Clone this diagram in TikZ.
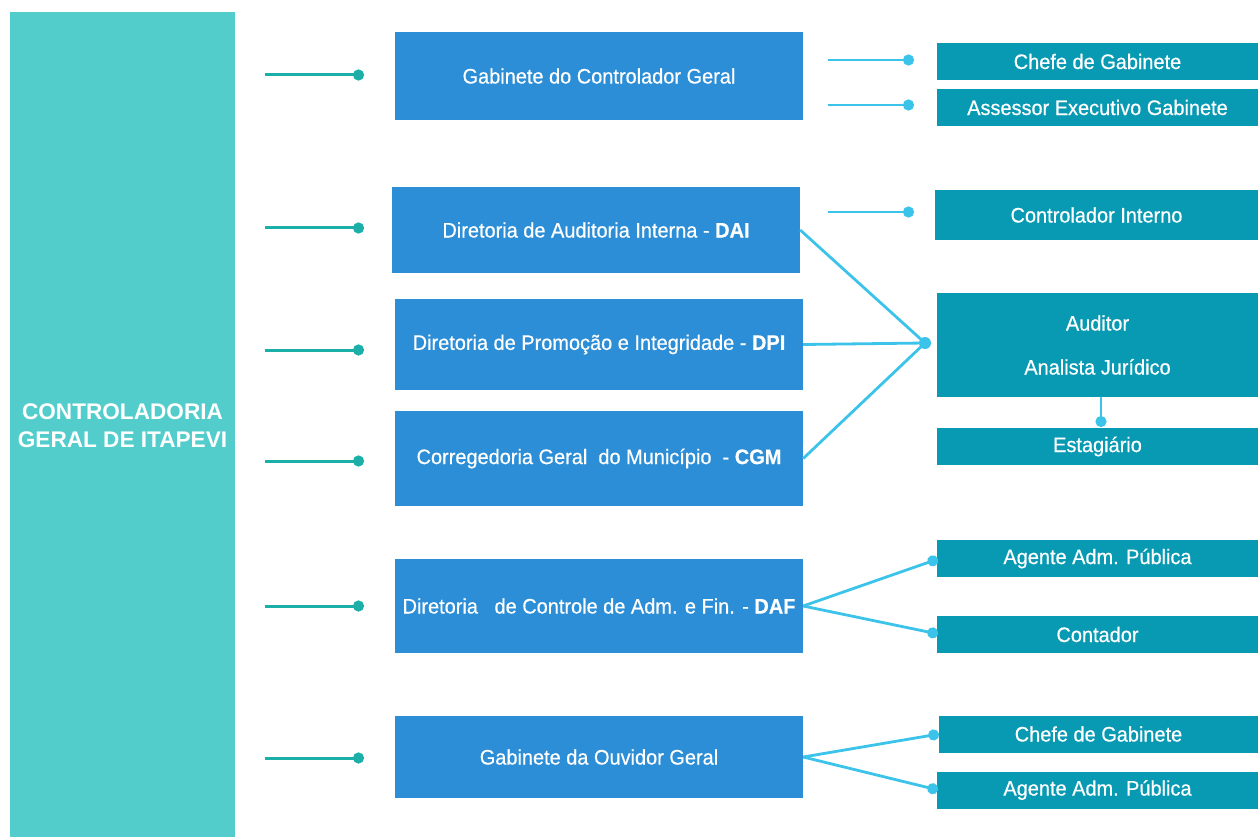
\documentclass[tikz,border=0pt]{standalone}
\usepackage{fontspec}
\setmainfont{Liberation Sans}
\newfontfamily\cond[FakeStretch=0.95,FakeBold=0.5]{Liberation Sans}
\usetikzlibrary{arrows.meta}
\definecolor{panelc}{HTML}{52CDCB}
\definecolor{midc}{HTML}{2C8ED6}
\definecolor{subc}{HTML}{0899B3}
\definecolor{lconnc}{HTML}{1BAFA8}
\definecolor{rconnc}{HTML}{3BC3EA}
\tikzset{
  panel/.style={rectangle,fill=panelc,inner sep=0pt,text=white,font=\bfseries\fontsize{22.6}{28}\selectfont,align=center},
  midbox/.style={rectangle,fill=midc,inner sep=0pt,minimum width=408pt,text=white,font=\cond\fontsize{21}{24}\selectfont},
  subbox/.style={rectangle,fill=subc,inner sep=0pt,minimum width=321pt,minimum height=37pt,text=white,font=\cond\fontsize{21}{24}\selectfont},
  lconn/.style={draw=lconnc,line width=3pt,-{Circle[length=11pt,width=11pt]}},
  rconn/.style={draw=rconnc,line width=2.8pt,-{Circle[length=11pt,width=11pt]}},
  rline/.style={draw=rconnc,line width=2.8pt},
  jdotst/.style={circle,fill=rconnc,inner sep=0pt,minimum size=12pt}
}
\begin{document}
\begin{tikzpicture}[x=1pt,y=-1pt]
\useasboundingbox (0,0) rectangle (1258,837);
% left panel
\fill[panelc] (10,12) rectangle (235,837);
\node[panel] (cgi) at (122.5,426) {CONTROLADORIA\\GERAL DE ITAPEVI};
% middle boxes
\node[midbox,minimum height=88pt] (gab) at (599,76) {Gabinete do Controlador Geral};
\node[midbox,minimum height=86pt] (dai) at (596,230) {Diretoria de Auditoria Interna - \textbf{DAI}};
\node[midbox,minimum height=91pt] (dpi) at (599,344.5) {Diretoria de Promoção e Integridade - \textbf{DPI}};
\node[midbox,minimum height=95pt] (cgm) at (599,458.5) {Corregedoria Geral\ \ do Município\ \ - \textbf{CGM}};
\node[midbox,minimum height=94pt] (daf) at (599,606) {Diretoria\ \ \ de Controle de Adm. e Fin. - \textbf{DAF}};
\node[midbox,minimum height=82pt] (ouv) at (599,757) {Gabinete da Ouvidor Geral};
% right boxes
\node[subbox] (cg1) at (1097.5,61.5) {Chefe de Gabinete};
\node[subbox] (aeg) at (1097.5,107.5) {Assessor Executivo Gabinete};
\node[subbox,minimum width=323pt,minimum height=50pt] (ci) at (1096.5,215) {Controlador Interno};
\node[subbox,minimum height=104pt,align=center] (aud) at (1097.5,345) {Auditor\\[20pt]Analista Jurídico};
\node[subbox] (est) at (1097.5,446.5) {Estagiário};
\node[subbox] (aap1) at (1097.5,558.5) {Agente Adm. Pública};
\node[subbox] (cont) at (1097.5,634.5) {Contador};
\node[subbox,minimum width=319pt] (cg2) at (1098.5,734) {Chefe de Gabinete};
\node[subbox] (aap2) at (1097.5,790) {Agente Adm. Pública};
% left connectors
\foreach \y/\n in {75/a,228/b,350/c,461/d,606/e,758/f}{
  \coordinate (ls\n) at (265,\y);
  \coordinate (le\n) at (364,\y);
  \draw[lconn] (ls\n) -- (le\n);
}
% right connectors for gabinete and controlador interno
\foreach \y/\n in {60/a,105/b,212/c}{
  \coordinate (rs\n) at (828,\y);
  \coordinate (re\n) at (914,\y);
  \draw[rconn] (rs\n) -- (re\n);
}
% junction to auditor
\node[jdotst] (jn) at (925,343) {};
\draw[rline] (dai.east) -- (jn.center);
\draw[rline] (dpi.east) -- (jn.center);
\draw[rline] (cgm.east) -- (jn.center);
% auditor to estagiario
\coordinate (ae) at (1101,427);
\draw[rconn] (aud.south -| ae) -- (ae);
% DAF
\coordinate (daf1) at (938,559);
\coordinate (daf2) at (938,634);
\draw[rconn] (daf.east) -- (daf1);
\draw[rconn] (daf.east) -- (daf2);
% Ouvidor
\coordinate (ouv1) at (939,734);
\coordinate (ouv2) at (938,790);
\draw[rconn] (ouv.east) -- (ouv1);
\draw[rconn] (ouv.east) -- (ouv2);
\end{tikzpicture}
\end{document}
